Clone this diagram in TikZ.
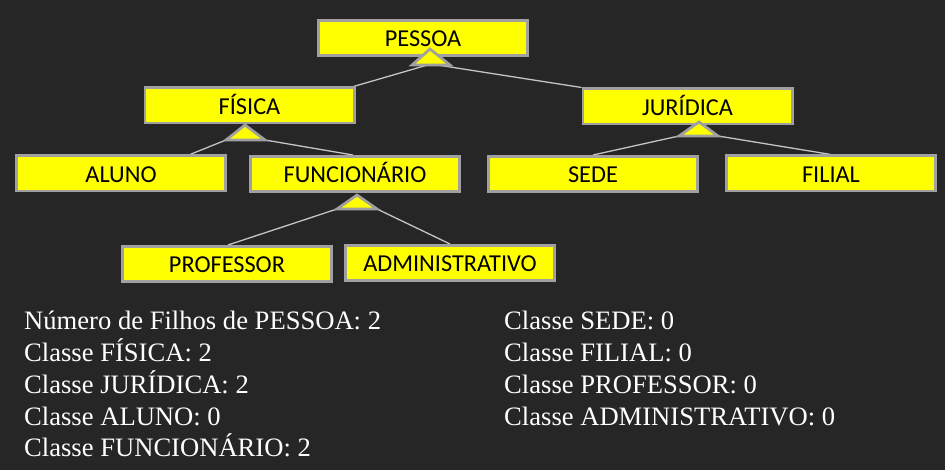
\documentclass[tikz,border=0pt]{standalone}
\usepackage{fontspec}
\setmainfont{Liberation Serif}
\newfontfamily\boxfont{Carlito}
\definecolor{bg}{HTML}{262626}
\definecolor{boxyellow}{HTML}{FFFF00}
\definecolor{boxborder}{HTML}{A0A0A0}
\definecolor{linkgray}{HTML}{C4C4C4}
\pgfdeclarelayer{back}
\pgfsetlayers{back,main}
\begin{document}
\begin{tikzpicture}[x=1pt,y=-1pt,
  cls/.style={draw=boxborder, line width=2.7pt, fill=boxyellow, minimum width=209.3pt, minimum height=35.3pt, inner sep=0pt, text height=17.4pt, text depth=0pt, font=\boxfont\fontsize{24.3}{24.3}\selectfont, text=black},
  tri/.style={draw=boxborder, line width=2.7pt, fill=boxyellow, line join=miter},
  link/.style={draw=linkgray, line width=1.3pt},
  info/.style={anchor=base west, inner sep=0pt, text=white, font=\fontsize{26.6}{26.6}\selectfont}]
\begin{pgfonlayer}{back}
\fill[bg] (0,0) rectangle (945,470);
\end{pgfonlayer}
\useasboundingbox (0,0) rectangle (945,470);

% class boxes
\node[cls] (pessoa)   at (423,38)    {PESSOA};
\node[cls] (fisica)   at (249.5,105.5) {FÍSICA};
\node[cls] (juridica) at (687.5,106.5) {JURÍDICA};
\node[cls] (aluno)    at (121,173.5) {ALUNO};
\node[cls] (func)     at (355,174)   {FUNCIONÁRIO};
\node[cls] (sede)     at (593,174)   {SEDE};
\node[cls] (filial)   at (831,173.5) {FILIAL};
\node[cls] (prof)     at (227,264)   {PROFESSOR};
\node[cls] (adm)      at (450,263)   {ADMINISTRATIVO};

% generalization triangles
\coordinate (tpA) at (430,49);  \coordinate (tpL) at (412,65);  \coordinate (tpR) at (450,65);  \coordinate (tpM) at (431,64);
\coordinate (tfA) at (245,125); \coordinate (tfL) at (226,140); \coordinate (tfR) at (265,140);
\coordinate (tjA) at (699,122); \coordinate (tjL) at (679,136); \coordinate (tjR) at (718,136);
\coordinate (tuA) at (357,195); \coordinate (tuL) at (337,209); \coordinate (tuR) at (377,209);

\begin{pgfonlayer}{back}
\draw[link] (tpM) -- ([xshift=-2pt]fisica.north east);
\draw[link] (tpM) -- (juridica.north west);
\draw[link] (tfL) -- ([xshift=69pt]aluno.north);
\draw[link] (tfR) -- ([xshift=-2pt]func.north);
\draw[link] (tjL) -- (sede.north);
\draw[link] (tjR) -- (filial.north);
\draw[link] (tuL) -- ([xshift=1pt]prof.north);
\draw[link] (tuR) -- (adm.north);
\end{pgfonlayer}

\draw[tri] (tpA) -- (tpL) -- (tpR) -- cycle;
\draw[tri] (tfA) -- (tfL) -- (tfR) -- cycle;
\draw[tri] (tjA) -- (tjL) -- (tjR) -- cycle;
\draw[tri] (tuA) -- (tuL) -- (tuR) -- cycle;

% counts
\node[info] (l1) at (24,330)   {Número de Filhos de PESSOA: 2};
\node[info] (l2) at (24,361.7) {Classe FÍSICA: 2};
\node[info] (l3) at (24,393.4) {Classe JURÍDICA: 2};
\node[info] (l4) at (24,425)   {Classe ALUNO: 0};
\node[info] (l5) at (24,456.7) {Classe FUNCIONÁRIO: 2};
\node[info] (r1) at (504,330)   {Classe SEDE: 0};
\node[info] (r2) at (504,361.7) {Classe FILIAL: 0};
\node[info] (r3) at (504,393.4) {Classe PROFESSOR: 0};
\node[info] (r4) at (504,425)   {Classe ADMINISTRATIVO: 0};
\end{tikzpicture}
\end{document}
